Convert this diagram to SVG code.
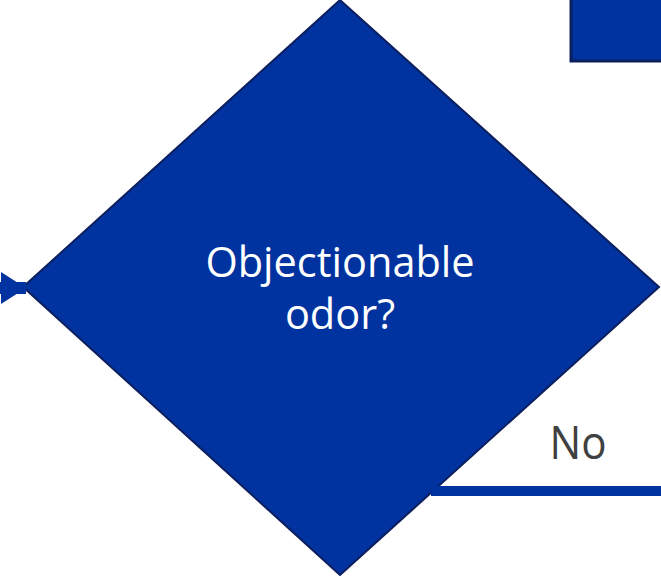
<svg xmlns="http://www.w3.org/2000/svg" width="661" height="576" viewBox="0 0 661 576">
<style>
.shape{fill:#0033a0;stroke:#0b1f5e;stroke-width:2}
.lbl{font-family:"Open Sans","Noto Sans",sans-serif;fill:#ffffff;font-size:41.5px;text-anchor:middle}
.edge{font-family:"Open Sans","Noto Sans",sans-serif;fill:#404040;font-size:46px;text-anchor:middle}
.conn{stroke:#0033a0;fill:none}
.head{fill:#0033a0}
</style>
<defs>
<marker id="arr" markerUnits="userSpaceOnUse" viewBox="0 0 25 32" markerWidth="25" markerHeight="32" refX="25" refY="16" orient="auto" overflow="visible">
<path class="head" d="M0,0 L25,16 L0,32 Z"/>
</marker>
</defs>
<g id="node-decision">
<polygon class="shape" points="340,0 659,287 340,575 23,287"/>
<text class="lbl" x="340" y="277">Objectionable</text>
<text class="lbl" x="340" y="329">odor?</text>
</g>
<g id="node-box">
<rect class="shape" x="571" y="-5" width="100" height="66" style="stroke-width:3"/>
</g>
<g id="connectors">
<path class="conn" d="M-2,288 H26" style="stroke-width:12" marker-end="url(#arr)"/>
<line class="conn" x1="431" y1="491" x2="661" y2="491" style="stroke-width:10"/>
<text class="edge" x="578" y="459" textLength="57" lengthAdjust="spacingAndGlyphs">No</text>
</g>
</svg>
